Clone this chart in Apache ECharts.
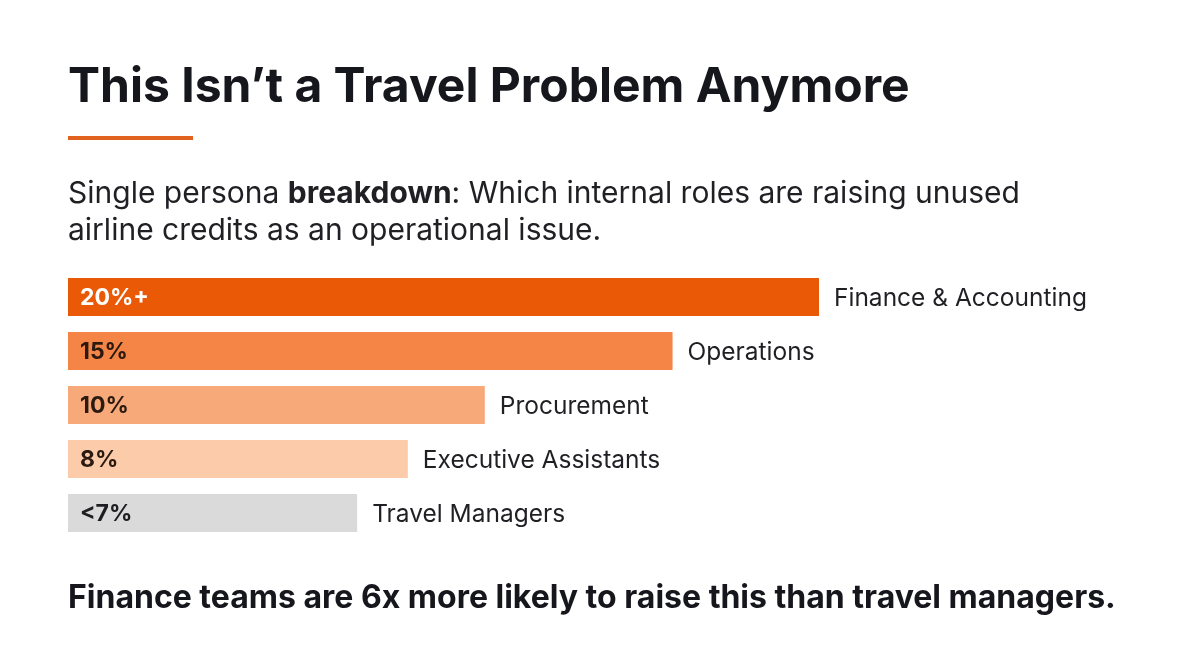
<!DOCTYPE html>
<html>
<head>
<meta charset="utf-8">
<script src="https://cdn.jsdelivr.net/npm/echarts@6/dist/echarts.min.js"></script>
<style>
  html, body { margin: 0; padding: 0; background: #fff; }
  #chart { width: 1200px; height: 670px; }
</style>
</head>
<body>
<div id="chart"></div>
<script>
const roles = ["Finance & Accounting", "Operations", "Procurement", "Executive Assistants", "Travel Managers"];
const shares = [20, 16.1, 11.1, 9.05, 7.7];
const shareLabels = ["20%+", "15%", "10%", "8%", "<7%"];
const barColors = ["#ea5906", "#f58546", "#f8a97a", "#fbcbaa", "#dadadb"];
const labelColors = ["#ffffff", "#2b1a10", "#2b1a10", "#2b1a10", "#1d1d22"];

const font = "Inter, 'Noto Sans', sans-serif";
const ink = "#16161d";

const chart = echarts.init(document.getElementById("chart"));

chart.setOption({
  backgroundColor: "#ffffff",
  animation: false,
  grid: { left: 68, right: 381, top: 270, height: 270 },
  xAxis: { type: "value", min: 0, max: 20, show: false },
  yAxis: {
    type: "category",
    data: roles,
    inverse: true,
    show: false
  },
  series: [
    {
      type: "bar",
      barWidth: 38,
      data: shares.map((v, i) => ({
        value: v,
        itemStyle: { color: barColors[i] },
        label: { color: labelColors[i] }
      })),
      label: {
        show: true,
        position: "insideLeft",
        distance: 12,
        offset: [0, 1],
        fontFamily: font,
        fontWeight: "bold",
        fontSize: 23,
        formatter: (p) => shareLabels[p.dataIndex]
      }
    },
    {
      type: "bar",
      barWidth: 38,
      barGap: "-100%",
      silent: true,
      itemStyle: { color: "transparent" },
      data: shares,
      label: {
        show: true,
        position: "right",
        distance: 15,
        offset: [0, 2],
        fontFamily: font,
        fontSize: 24.5,
        color: "#1f1f24",
        formatter: (p) => roles[p.dataIndex]
      }
    }
  ],
  graphic: [
    {
      type: "text",
      x: 68, y: 88,
      style: {
        text: "This Isn’t a Travel Problem Anymore",
        font: "bold 48px " + font,
        fill: ink,
        verticalAlign: "middle"
      }
    },
    {
      type: "rect",
      shape: { x: 68, y: 136, width: 125, height: 4 },
      style: { fill: "#e0621e" }
    },
    {
      type: "text",
      x: 68, y: 194,
      style: {
        text: "Single persona {b|breakdown}: Which internal roles are raising unused",
        font: "30px " + font,
        fill: "#1f1f24",
        verticalAlign: "middle",
        rich: { b: { fontWeight: "bold", fontSize: 30, fontFamily: font, fill: "#1f1f24" } }
      }
    },
    {
      type: "text",
      x: 68, y: 231,
      style: {
        text: "airline credits as an operational issue.",
        font: "30px " + font,
        fill: "#1f1f24",
        verticalAlign: "middle"
      }
    },
    {
      type: "text",
      x: 68, y: 598,
      style: {
        text: "Finance teams are 6x more likely to raise this than travel managers.",
        font: "bold 32px " + font,
        fill: ink,
        verticalAlign: "middle"
      }
    }
  ]
});
</script>
</body>
</html>
